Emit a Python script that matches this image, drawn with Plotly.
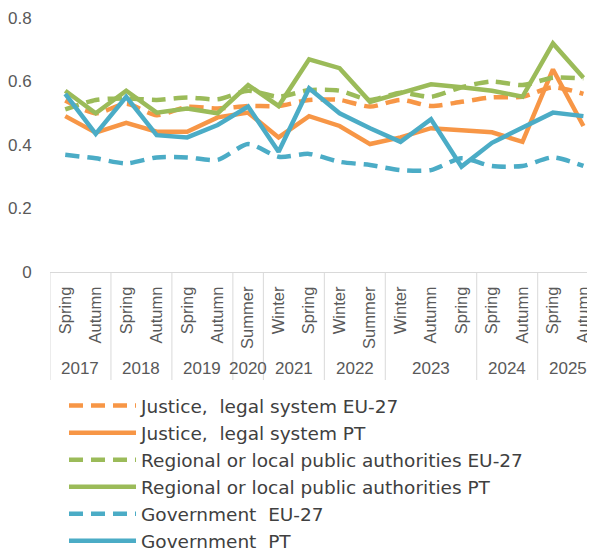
import plotly.graph_objects as go

years = ["2017", "2017", "2018", "2018", "2019", "2019", "2020", "2021", "2021",
         "2022", "2022", "2023", "2023", "2023", "2024", "2024", "2025", "2025"]
seasons = ["Spring", "Autumn", "Spring", "Autumn", "Spring", "Autumn", "Summer", "Winter", "Spring",
           "Winter", "Summer", "Winter", "Autumn", "Spring", "Spring", "Autumn", "Spring", "Autumn"]

justice_eu = [0.54, 0.50, 0.53, 0.494, 0.52, 0.515, 0.523, 0.523, 0.542, 0.542, 0.521, 0.542, 0.523, 0.536, 0.55, 0.552, 0.582, 0.561]
justice_pt = [0.491, 0.439, 0.47, 0.442, 0.442, 0.487, 0.502, 0.424, 0.491, 0.46, 0.403, 0.424, 0.453, 0.445, 0.44, 0.41, 0.638, 0.46]
regional_eu = [0.512, 0.542, 0.547, 0.542, 0.55, 0.544, 0.571, 0.552, 0.573, 0.571, 0.542, 0.565, 0.552, 0.582, 0.60, 0.589, 0.612, 0.61]
regional_pt = [0.571, 0.50, 0.571, 0.502, 0.515, 0.50, 0.589, 0.523, 0.67, 0.642, 0.536, 0.565, 0.591, 0.582, 0.571, 0.552, 0.72, 0.612]
government_eu = [0.369, 0.358, 0.342, 0.361, 0.361, 0.353, 0.403, 0.363, 0.372, 0.347, 0.337, 0.321, 0.321, 0.358, 0.334, 0.334, 0.361, 0.334]
government_pt = [0.561, 0.435, 0.552, 0.431, 0.424, 0.463, 0.521, 0.379, 0.579, 0.50, 0.453, 0.41, 0.481, 0.332, 0.407, 0.453, 0.502, 0.491]

y_ticks = [0, 0.2, 0.4, 0.6, 0.8]
y_ticktext = ["0", "0.2", "0.4", "0.6", "0.8"]

ORANGE = "#F79646"
GREEN = "#9BBB59"
BLUE = "#4BACC6"
GRID = "#d9d9d9"
TXT = "#595959"
FONT = "Liberation Sans, Arial, sans-serif"
LEGFONT = "DejaVu Sans, sans-serif"

categories = [f"{s} {y}" for y, s in zip(years, seasons)]

series = [
    ("Justice,  legal system EU-27", justice_eu, ORANGE, True),
    ("Justice,  legal system PT", justice_pt, ORANGE, False),
    ("Regional or local public authorities EU-27", regional_eu, GREEN, True),
    ("Regional or local public authorities PT", regional_pt, GREEN, False),
    ("Government  EU-27", government_eu, BLUE, True),
    ("Government  PT", government_pt, BLUE, False),
]

fig = go.Figure()
for name, vals, col, dashed in series:
    fig.add_trace(go.Scatter(
        x=categories, y=vals, name=name, mode="lines",
        line=dict(color=col, width=4.5,
                  dash="14px,8px" if dashed else "solid",
                  shape="spline" if dashed else "linear",
                  smoothing=0.7 if dashed else None),
    ))

# the page body adds an 8px offset; margins compensate for it
OFF = 8
PLOT_TOP = 18          # screen px of y = 0.8
PLOT_BOTTOM = 272      # screen px of y = 0
PLOT_LEFT = 50
PH = PLOT_BOTTOM - PLOT_TOP
box_bottom = -(380 - PLOT_BOTTOM) / PH

shapes = []
annotations = []
start = 0
for i in range(1, len(years) + 1):
    if i == len(years) or years[i] != years[start]:
        shapes.append(dict(type="line", xref="x", yref="paper",
                           x0=start - 0.5, x1=start - 0.5, y0=0, y1=box_bottom,
                           line=dict(color=GRID, width=1)))
        annotations.append(dict(xref="x", yref="paper", x=(start + i - 1) / 2,
                                y=-(368 - PLOT_BOTTOM) / PH, text=years[start],
                                showarrow=False, xanchor="center", yanchor="middle",
                                font=dict(family=FONT, size=17, color=TXT)))
        start = i

fig.update_layout(
    width=595, height=551,
    margin=dict(l=PLOT_LEFT - OFF, r=OFF, t=PLOT_TOP - OFF,
                b=551 - (PLOT_BOTTOM - OFF), autoexpand=False),
    paper_bgcolor="white", plot_bgcolor="white",
    font=dict(family=FONT, color=TXT, size=16),
    showlegend=True,
    legend=dict(
        x=0.0257, y=-0.453, xanchor="left", yanchor="top",
        font=dict(family=LEGFONT, size=18.5, color="#404040"),
        itemwidth=67, tracegroupgap=0,
        bgcolor="rgba(0,0,0,0)",
    ),
    shapes=shapes,
    annotations=annotations,
    xaxis=dict(
        type="category", range=[-0.5, 17.38], automargin=False,
        tickvals=categories, ticktext=seasons,
        showgrid=False, showline=True, linecolor=GRID, linewidth=1,
        tickangle=-90, tickfont=dict(size=16.5, color=TXT),
        ticks="outside", ticklen=7, tickcolor="rgba(0,0,0,0)",
    ),
    yaxis=dict(
        range=[0, 0.8001], tickvals=y_ticks, ticktext=y_ticktext, automargin=False,
        showgrid=False, zeroline=False, showline=False,
        tickfont=dict(size=17, color=TXT),
        ticks="outside", ticklen=14, tickcolor="rgba(0,0,0,0)",
    ),
)

fig.write_html("out.html")
